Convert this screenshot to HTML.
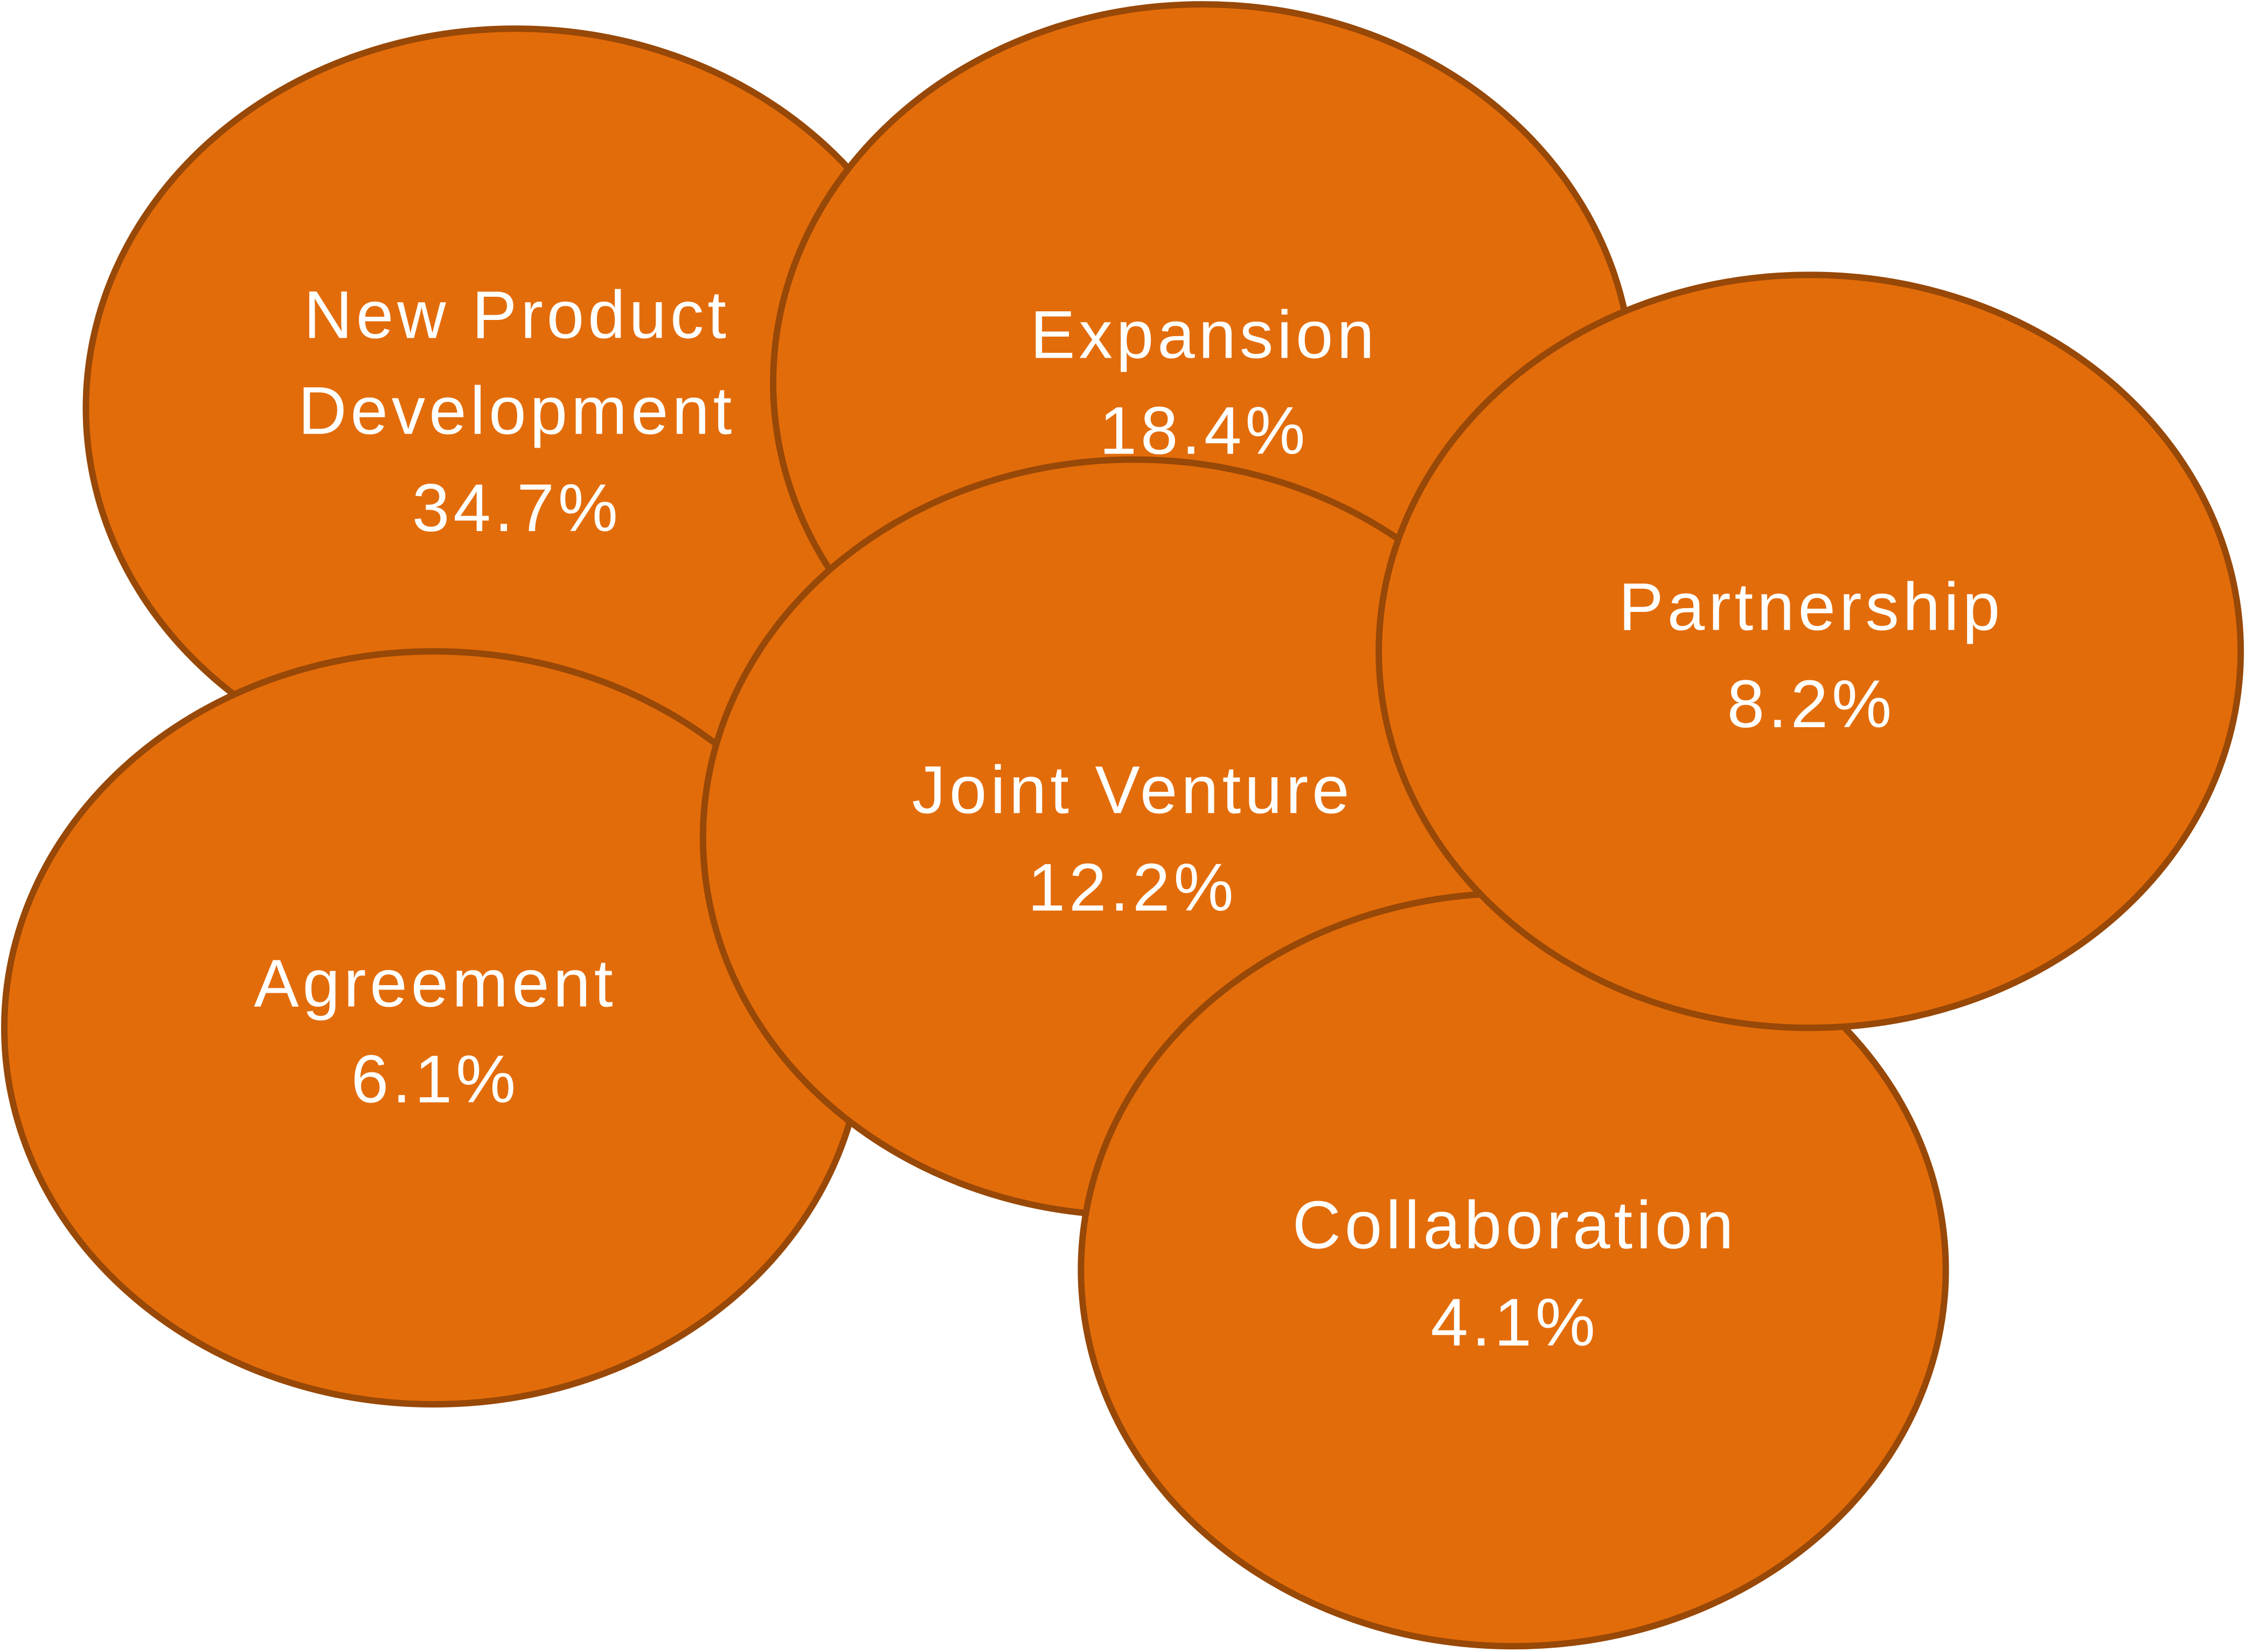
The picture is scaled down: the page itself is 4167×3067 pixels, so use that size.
<!DOCTYPE html>
<html><head><meta charset="utf-8"><style>
html,body{margin:0;padding:0;background:#fff;}
svg{display:block;}
text{font-family:"Liberation Sans",sans-serif;font-size:47px;fill:#fff;text-anchor:middle;letter-spacing:2.6px;}
</style></head><body>
<svg width="4167" height="3067" viewBox="0 0 1568 1154" xmlns="http://www.w3.org/2000/svg">
<g fill="#e36c0a" stroke="#984807" stroke-width="4.5">
<ellipse cx="360" cy="285" rx="300" ry="265"/>
<ellipse cx="840" cy="267" rx="300" ry="264"/>
<ellipse cx="303" cy="718" rx="300" ry="263"/>
<ellipse cx="792" cy="585" rx="301" ry="264"/>
<ellipse cx="1057" cy="887" rx="302" ry="263"/>
<ellipse cx="1264" cy="455" rx="301" ry="263"/>
</g>
<text x="361" y="236">New Product</text>
<text x="361" y="303">Development</text>
<text x="361" y="371">34.7%</text>
<text x="841" y="250">Expansion</text>
<text x="841" y="317">18.4%</text>
<text x="1265" y="440">Partnership</text>
<text x="1265" y="508">8.2%</text>
<text x="791" y="568">Joint Venture</text>
<text x="791" y="636">12.2%</text>
<text x="304" y="703">Agreement</text>
<text x="304" y="770">6.1%</text>
<text x="1058" y="872">Collaboration</text>
<text x="1058" y="940">4.1%</text>
</svg>
</body></html>
